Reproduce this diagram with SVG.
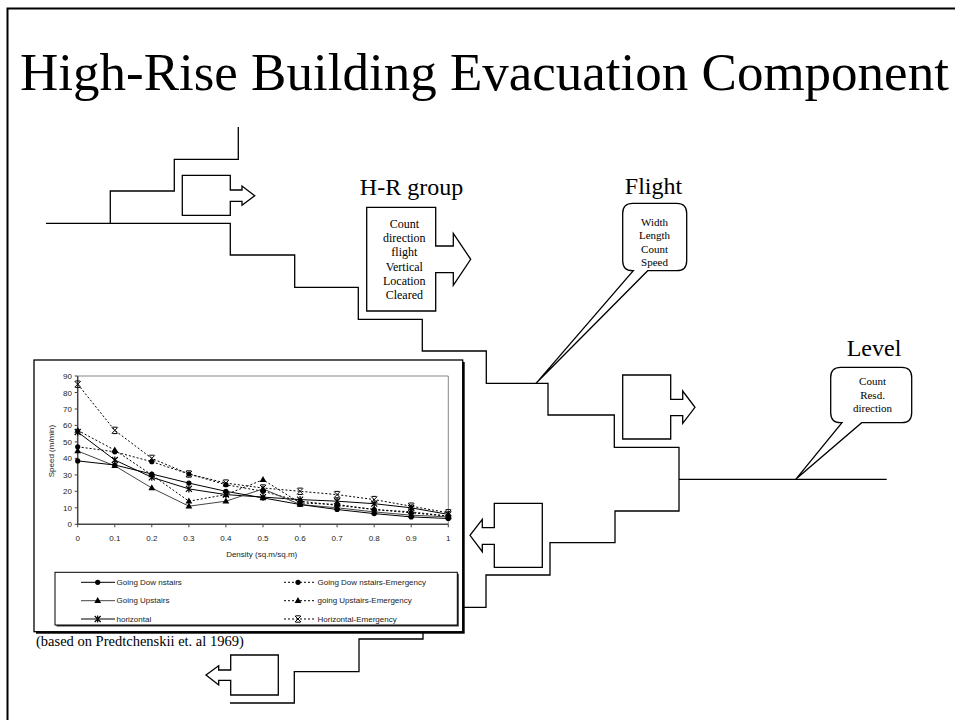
<svg xmlns="http://www.w3.org/2000/svg" width="955" height="720" viewBox="0 0 955 720">
<style>
.ln{fill:none;stroke:#000;stroke-width:1.3}
.shape{fill:#fff;stroke:#000;stroke-width:1.3}
.serif{font-family:"Liberation Serif","Times New Roman",serif;fill:#000}
.sans{font-family:"Liberation Sans",Arial,sans-serif;fill:#222;font-size:8px}
.solid{fill:none;stroke:#000;stroke-width:1}
.gsolid{fill:none;stroke:#444;stroke-width:1}
.dot{fill:none;stroke:#000;stroke-width:1;stroke-dasharray:2 2}
.mc{marker-start:url(#mc);marker-mid:url(#mc);marker-end:url(#mc)}
.mt{marker-start:url(#mt);marker-mid:url(#mt);marker-end:url(#mt)}
.ma{marker-start:url(#ma);marker-mid:url(#ma);marker-end:url(#ma)}
.mx{marker-start:url(#mx);marker-mid:url(#mx);marker-end:url(#mx)}
.lc{marker-mid:url(#mc)}
.lt{marker-mid:url(#mt)}
.la{marker-mid:url(#ma)}
.lx{marker-mid:url(#mx)}
</style>
<defs>
<marker id="mc" markerUnits="userSpaceOnUse" markerWidth="8" markerHeight="8" refX="4" refY="4" overflow="visible"><circle cx="4" cy="4" r="2.6" fill="#000"/></marker>
<marker id="mt" markerUnits="userSpaceOnUse" markerWidth="8" markerHeight="8" refX="4" refY="4.5" overflow="visible"><path d="M4 0.8 L7.4 6.8 L0.6 6.8 Z" fill="#000"/></marker>
<marker id="ma" markerUnits="userSpaceOnUse" markerWidth="8" markerHeight="8" refX="4" refY="4" overflow="visible"><path d="M1 1 L7 7 M7 1 L1 7 M4 0.5 V7.5" stroke="#000" stroke-width="1.2" fill="none"/></marker>
<marker id="mx" markerUnits="userSpaceOnUse" markerWidth="8" markerHeight="8" refX="4" refY="4" overflow="visible"><path d="M1 1 L7 7 M7 1 L1 7 M1.5 0.8 H6.5 M1.5 7.2 H6.5" stroke="#000" stroke-width="1" fill="none"/></marker>
</defs>
<rect width="955" height="720" fill="#fff"/>
<path d="M7.5 720 V8.5 H955" fill="none" stroke="#000" stroke-width="2"/>
<text class="serif" x="20" y="90" font-size="53">High-Rise Building Evacuation Component</text>

<g id="connectors">
<path class="ln" d="M238.3 127 V159.3 H174.3 V191 H110.3 V223.3"/>
<path class="ln" d="M46 223.3 H230.3 V255 H294.7 V287.3 H358.3 V319.3 H422.3 V351 H486.3 V383.3 H548 V415 H614.3 V447.3 H679 V511 H615 V542.7 H550 V575 H486 V607.3 H462"/>
<path class="ln" d="M679 479.3 H886.7"/>
<path class="ln" d="M423 631 V639 H359 V671.7 H294.3 V703 H230"/>
</g>

<g id="arrow-top-left">
<path class="shape" d="M182.3 175.3 H230.3 V190 H242 V186 L254.7 195.7 L242 205.3 V201.3 H230.3 V215.3 H182.3 Z"/>
</g>

<g id="hr-group">
<text class="serif" x="411.5" y="195" font-size="24" text-anchor="middle">H-R group</text>
<path class="shape" d="M366.7 207.3 H435.7 V246 H453.3 V233.3 L470.7 259.3 L453.3 285.3 V272.7 H435.7 V311 H366.7 Z"/>
<g class="serif" font-size="12" text-anchor="middle">
<text x="404.3" y="227.7">Count</text>
<text x="404.3" y="242">direction</text>
<text x="404.3" y="256.3">flight</text>
<text x="404.3" y="270.6">Vertical</text>
<text x="404.3" y="284.9">Location</text>
<text x="404.3" y="299.2">Cleared</text>
</g>
</g>

<g id="flight">
<text class="serif" x="653.5" y="194" font-size="24" text-anchor="middle">Flight</text>
<path class="shape" d="M632.7 203.3 H676.7 Q686.7 203.3 686.7 213.3 V260.7 Q686.7 270.7 676.7 270.7 H647.7 L536 383.3 L633.3 270.7 H632.7 Q622.7 270.7 622.7 260.7 V213.3 Q622.7 203.3 632.7 203.3 Z"/>
<g class="serif" font-size="11" text-anchor="middle">
<text x="654.5" y="226">Width</text>
<text x="654.5" y="239.3">Length</text>
<text x="654.5" y="252.6">Count</text>
<text x="654.5" y="266">Speed</text>
</g>
</g>

<g id="arrow-mid-right">
<path class="shape" d="M622.7 375 H670.7 V399.3 H682.7 V391 L695 407.3 L682.7 423.3 V415.7 H670.7 V439 H622.7 Z"/>
</g>

<g id="level">
<text class="serif" x="874" y="356" font-size="24" text-anchor="middle">Level</text>
<path class="shape" d="M840.7 367.3 H901.7 Q911.7 367.3 911.7 377.3 V412.7 Q911.7 422.7 901.7 422.7 H861.7 L795.7 479.3 L842 422.7 H840.7 Q830.7 422.7 830.7 412.7 V377.3 Q830.7 367.3 840.7 367.3 Z"/>
<g class="serif" font-size="11" text-anchor="middle">
<text x="872.5" y="385">Count</text>
<text x="872.5" y="398.5">Resd.</text>
<text x="872.5" y="412">direction</text>
</g>
</g>

<g id="arrow-left-mid">
<path class="shape" d="M542.3 503.3 V567.3 H494.3 V544.3 H482.3 V551.7 L470 535.3 L482.3 519.3 V527.7 H494.3 V503.3 Z"/>
</g>

<g id="arrow-left-bottom">
<path class="shape" d="M278.3 655 V695 H230.7 V680.3 H218.7 V685 L206 675 L218.7 665.7 V670 H230.7 V655 Z"/>
</g>

<g id="chart">
<rect x="36" y="362" width="428.7" height="271.7" fill="#000"/>
<rect x="34" y="360" width="428.7" height="271.7" fill="#fff" stroke="#000" stroke-width="1.3"/>
<path d="M77.7 376 H448.3 V524.3" fill="none" stroke="#888" stroke-width="1"/>
<path d="M77.7 376 V524.3 H448.3" fill="none" stroke="#444" stroke-width="1.5"/>
<path d="M74.7 376 H77.7 M74.7 392.5 H77.7 M74.7 409 H77.7 M74.7 425.4 H77.7 M74.7 441.9 H77.7 M74.7 458.4 H77.7 M74.7 474.9 H77.7 M74.7 491.3 H77.7 M74.7 507.8 H77.7 M74.7 524.3 H77.7 M77.7 524.3 V527.3 M114.8 524.3 V527.3 M151.8 524.3 V527.3 M188.9 524.3 V527.3 M225.9 524.3 V527.3 M263 524.3 V527.3 M300.1 524.3 V527.3 M337.1 524.3 V527.3 M374.2 524.3 V527.3 M411.2 524.3 V527.3 M448.3 524.3 V527.3" stroke="#444" stroke-width="1"/>
<g class="sans" text-anchor="end">
<text x="72" y="379">90</text>
<text x="72" y="395.5">80</text>
<text x="72" y="412">70</text>
<text x="72" y="428.4">60</text>
<text x="72" y="444.9">50</text>
<text x="72" y="461.4">40</text>
<text x="72" y="477.9">30</text>
<text x="72" y="494.3">20</text>
<text x="72" y="510.8">10</text>
<text x="72" y="527.3">0</text>
</g>
<g class="sans" text-anchor="middle">
<text x="77.7" y="541">0</text>
<text x="114.8" y="541">0.1</text>
<text x="151.8" y="541">0.2</text>
<text x="188.9" y="541">0.3</text>
<text x="225.9" y="541">0.4</text>
<text x="263" y="541">0.5</text>
<text x="300.1" y="541">0.6</text>
<text x="337.1" y="541">0.7</text>
<text x="374.2" y="541">0.8</text>
<text x="411.2" y="541">0.9</text>
<text x="448.3" y="541">1</text>
<text x="261.7" y="557">Density (sq.m/sq.m)</text>
<text transform="translate(53.5 451) rotate(-90)">Speed (m/min)</text>
</g>
<polyline class="dot mx" points="77.7,384.2 114.8,430.4 151.8,458.4 188.9,474 225.9,483.1 263,488 300.1,491.3 337.1,494.6 374.2,499.6 411.2,506.2 448.3,512.8"/>
<polyline class="dot mt" points="77.7,430.4 114.8,450.1 151.8,474.9 188.9,501.2 225.9,494.6 263,479.8 300.1,502.9 337.1,504.5 374.2,509.5 411.2,511.9 448.3,516.1"/>
<polyline class="dot mc" points="77.7,446.8 114.8,451.8 151.8,461.7 188.9,474 225.9,484.7 263,491.3 300.1,501.2 337.1,505.3 374.2,509.5 411.2,512.8 448.3,516.1"/>
<polyline class="solid ma" points="77.7,432 114.8,460 151.8,477.3 188.9,488.9 225.9,494.6 263,497.1 300.1,499.6 337.1,501.2 374.2,503.7 411.2,507.8 448.3,514.4"/>
<polyline class="gsolid mt" points="77.7,451 114.8,465.8 151.8,488 188.9,506.2 225.9,501.2 263,488.9 300.1,504.5 337.1,507.8 374.2,511.9 411.2,515.2 448.3,516.9"/>
<polyline class="solid mc" points="77.7,460.9 114.8,465 151.8,474 188.9,483.1 225.9,491.3 263,497.9 300.1,504.5 337.1,509.5 374.2,513.6 411.2,516.9 448.3,518.5"/>
<rect x="56.5" y="573.8" width="402.3" height="52.7" fill="#333"/>
<rect x="55" y="572.3" width="402.3" height="52.7" fill="#fff" stroke="#000" stroke-width="1"/>
<path class="solid lc" d="M81 582.3 H97.7 H115"/>
<path class="gsolid lt" d="M81 600.7 H97.7 H115"/>
<path class="solid la" d="M81 619 H97.7 H115"/>
<path class="dot lc" d="M284 582.3 H298 H316"/>
<path class="dot lt" d="M284 600.7 H298 H316"/>
<path class="dot lx" d="M284 619 H298 H316"/>
<g class="sans">
<text x="116.5" y="585">Going Dow nstairs</text>
<text x="116.5" y="603.4">Going Upstairs</text>
<text x="116.5" y="621.7">horizontal</text>
<text x="317.5" y="585">Going Dow nstairs-Emergency</text>
<text x="317.5" y="603.4">going Upstairs-Emergency</text>
<text x="317.5" y="621.7">Horizontal-Emergency</text>
</g>
</g>
<text class="serif" x="36" y="646" font-size="14.5">(based on Predtchenskii et. al 1969)</text>
</svg>
